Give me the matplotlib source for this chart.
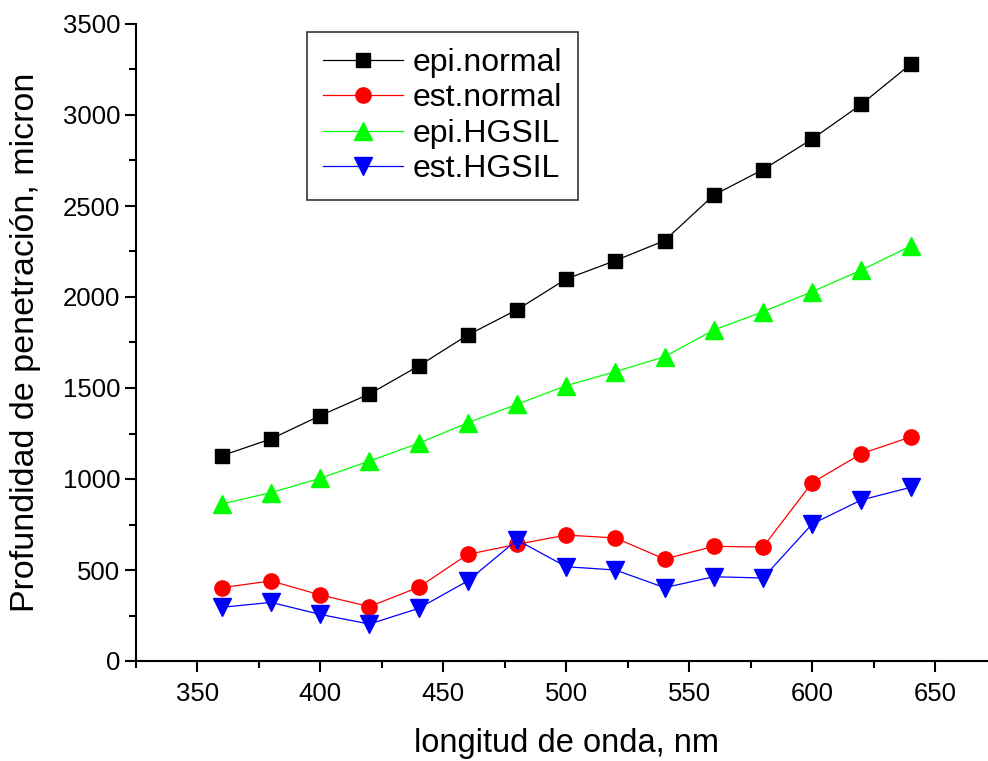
import matplotlib
matplotlib.use("Agg")
import matplotlib.pyplot as plt
from matplotlib.ticker import MultipleLocator

plt.rcParams['font.family'] = ['Liberation Sans', 'DejaVu Sans']

wavelength = [360, 380, 400, 420, 440, 460, 480, 500, 520, 540, 560, 580, 600, 620, 640]
epi_normal = [1128, 1220, 1348, 1467, 1621, 1791, 1930, 2099, 2200, 2310, 2560, 2700, 2868, 3059, 3279]
est_normal = [403, 440, 363, 299, 405, 586, 641, 692, 676, 560, 630, 626, 980, 1139, 1231]
epi_hgsil = [863, 925, 1004, 1099, 1196, 1309, 1410, 1513, 1590, 1672, 1819, 1919, 2029, 2148, 2280]
est_hgsil = [295, 322, 256, 203, 289, 440, 665, 518, 500, 403, 463, 456, 753, 885, 954]

labels = ['epi.normal', 'est.normal', 'epi.HGSIL', 'est.HGSIL']

W, H = 988, 761
fig = plt.figure(figsize=(W / 100, H / 100), dpi=100)
left = 135.7 / W
bottom = (H - 661) / H
height = (661 - 24) / H
width = 861 / W
ax = fig.add_axes([left, bottom, width, height])

ax.plot(wavelength, epi_normal, color='black', lw=0.9, marker='s', ms=9.5, mec='black', label=labels[0])
ax.plot(wavelength, est_normal, color='red', lw=0.9, marker='o', ms=11, mec='red', label=labels[1])
ax.plot(wavelength, epi_hgsil, color='#00ff00', lw=0.9, marker='^', ms=12.5, mec='#00ff00', label=labels[2])
ax.plot(wavelength, est_hgsil, color='blue', lw=0.9, marker='v', ms=12.5, mec='blue', label=labels[3])

ax.set_xlim(325, 675)
ax.set_ylim(0, 3500)
ax.xaxis.set_major_locator(MultipleLocator(50))
ax.xaxis.set_minor_locator(MultipleLocator(25))
ax.yaxis.set_major_locator(MultipleLocator(500))
ax.yaxis.set_minor_locator(MultipleLocator(250))

for s in ['top', 'right']:
    ax.spines[s].set_visible(False)
for s in ['left', 'bottom']:
    ax.spines[s].set_linewidth(1.5)

ax.tick_params(which='major', direction='out', length=8, width=1.5, labelsize=18.5)
ax.tick_params(which='minor', direction='out', length=5, width=1.5)
ax.tick_params(axis='y', which='major', pad=3)
ax.tick_params(axis='x', which='major', pad=7)

ax.set_xlabel('longitud de onda, nm', fontsize=23.5, labelpad=16)
ax.set_ylabel('Profundidad de penetración, micron', fontsize=24.5, labelpad=16)

leg = ax.legend(loc='upper left', bbox_to_anchor=(307 / W, 1 - 32 / H),
                bbox_transform=fig.transFigure, borderaxespad=0,
                fontsize=23, handlelength=2.5, handletextpad=0.3,
                labelspacing=0.17, borderpad=0.5, frameon=True, fancybox=False)
leg.get_frame().set_edgecolor('black')
leg.get_frame().set_linewidth(1.2)

fig.savefig('out.png', dpi=100)
